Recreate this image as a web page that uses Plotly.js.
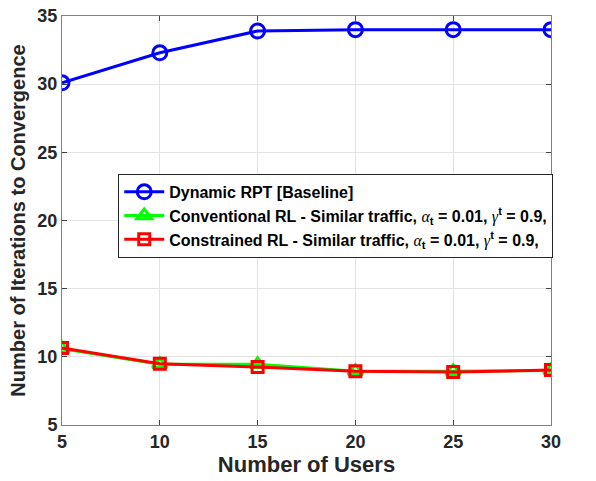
<!DOCTYPE html>
<html><head><meta charset="utf-8">
<script src="https://cdn.plot.ly/plotly-3.0.1.min.js"></script>
<style>body{margin:0;background:#fff}#c{width:596px;height:481px}</style>
</head><body><div id="c"></div>
<script>
const users = [5, 10, 15, 20, 25, 30];
const dynamicRPT = [30.1, 32.3, 33.9, 34.0, 34.0, 34.0];
const conventionalRL = [10.6, 9.45, 9.45, 8.95, 8.95, 9.0];
const constrainedRL = [10.65, 9.5, 9.25, 8.95, 8.88, 9.03];
const seriesNames = [
  'Dynamic RPT [Baseline]',
  'Conventional RL - Similar traffic, <span style="font-family:Liberation Serif;font-style:italic;font-weight:normal">α</span><sub>t</sub> = 0.01, <span style="font-family:Liberation Serif;font-style:italic;font-weight:normal">γ</span><sup>t</sup> = 0.9,',
  'Constrained RL - Similar traffic, <span style="font-family:Liberation Serif;font-style:italic;font-weight:normal">α</span><sub>t</sub> = 0.01, <span style="font-family:Liberation Serif;font-style:italic;font-weight:normal">γ</span><sup>t</sup> = 0.9,'
];
const yTicks = [5, 10, 15, 20, 25, 30, 35];
const xTicks = [5, 10, 15, 20, 25, 30];

const traces = [
  {x: users, y: dynamicRPT, name: seriesNames[0], mode: 'lines+markers',
   line: {color: '#0000ff', width: 3},
   marker: {symbol: 'circle-open', size: 14, color: '#0000ff', line: {width: 3, color: '#0000ff'}}},
  {x: users, y: conventionalRL, name: seriesNames[1], mode: 'lines+markers',
   line: {color: '#00ff00', width: 3},
   marker: {symbol: 'triangle-up-open', size: 13, color: '#00ff00', line: {width: 3, color: '#00ff00'}}},
  {x: users, y: constrainedRL, name: seriesNames[2], mode: 'lines+markers',
   line: {color: '#ff0000', width: 3},
   marker: {symbol: 'square-open', size: 11, color: '#ff0000', line: {width: 3, color: '#ff0000'}}}
];

const axisCommon = {
  showline: true, mirror: 'ticks', linecolor: '#808080', linewidth: 1,
  ticks: 'inside', ticklen: 5, tickcolor: '#404040',
  showgrid: true, gridcolor: '#e3e3e3', gridwidth: 1, zeroline: false,
  automargin: false,
  tickfont: {family: 'Liberation Sans, Arial', size: 18, color: '#262626', weight: 'bold'}
};

const layout = {
  width: 596, height: 481,
  margin: {l: 62, r: 45, t: 16, b: 56},
  paper_bgcolor: '#fff', plot_bgcolor: '#fff',
  font: {family: 'Liberation Sans, Arial', color: '#262626'},
  xaxis: Object.assign({}, axisCommon, {
    range: [5, 30], tickvals: xTicks,
    title: {text: '<b>Number of Users</b>', font: {size: 22, color: '#262626'}, standoff: 2}
  }),
  yaxis: Object.assign({}, axisCommon, {
    range: [5, 35], tickvals: yTicks,
    title: {text: '<b>Number of Iterations to Convergence</b>', font: {size: 20, color: '#262626'}, standoff: 6}
  }),
  legend: {
    x: 0.115, y: 0.614, xanchor: 'left', yanchor: 'top',
    bgcolor: '#fff', bordercolor: '#262626', borderwidth: 1,
    font: {family: 'Liberation Sans, Arial', size: 16, color: '#000', weight: 'bold'},
    tracegroupgap: 0, itemwidth: 40
  },
  showlegend: true
};

Plotly.newPlot('c', traces, layout, {displayModeBar: false, staticPlot: true});
</script>
</body></html>
